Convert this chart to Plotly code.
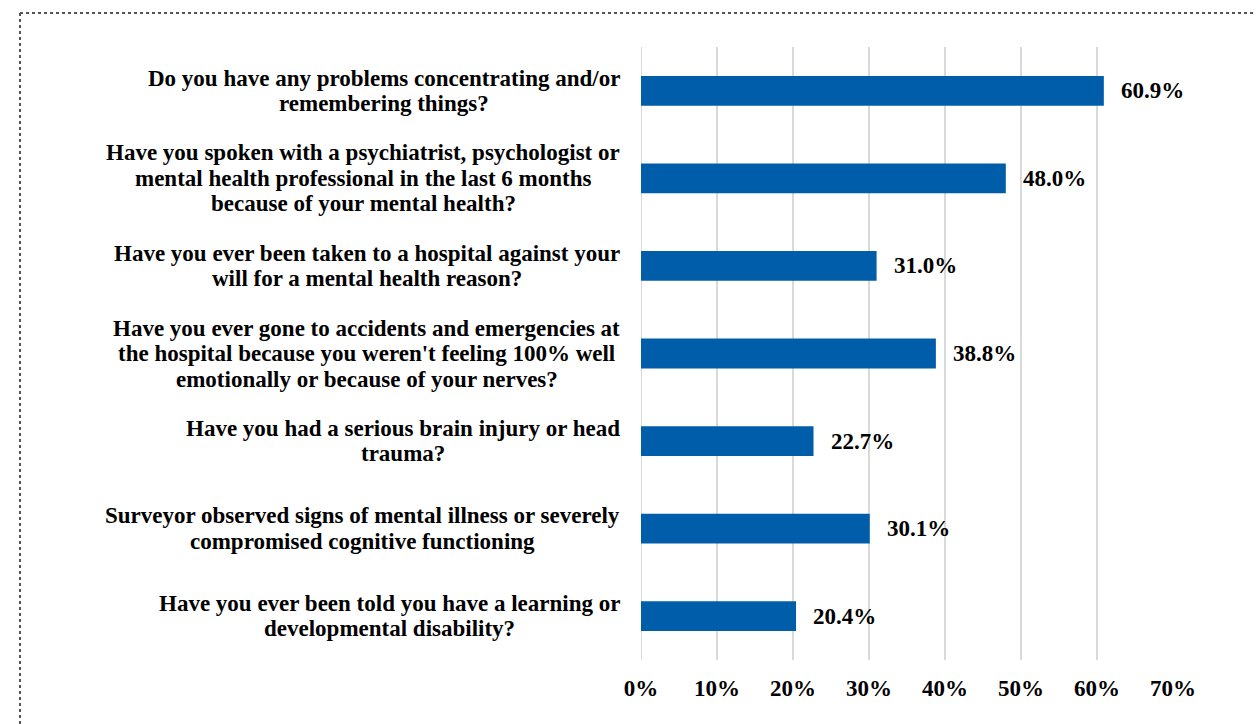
import glob
import plotly.graph_objects as go

# Survey questions (top to bottom), one list entry per printed line
questions = [
    ["Do you have any problems concentrating and/or", "remembering things?"],
    ["Have you spoken with a psychiatrist, psychologist or",
     "mental health professional in the last 6 months",
     "because of your mental health?"],
    ["Have you ever been taken to a hospital against your",
     "will for a mental health reason?"],
    ["Have you ever gone to accidents and emergencies at",
     "the hospital because you weren't feeling 100% well",
     "emotionally or because of your nerves?"],
    ["Have you had a serious brain injury or head", "trauma?"],
    ["Surveyor observed signs of mental illness or severely",
     "compromised cognitive functioning"],
    ["Have you ever been told you have a learning or",
     "developmental disability?"],
]
percent_yes = [60.9, 48.0, 31.0, 38.8, 22.7, 30.1, 20.4]

tick_values = [0, 10, 20, 30, 40, 50, 60, 70]
tick_labels = ["0%", "10%", "20%", "30%", "40%", "50%", "60%", "70%"]

FONT = "Liberation Serif, Times New Roman, serif"
FONT_SIZE = 23
LINE_HEIGHT = 25.5
TEXT_COLOR = "#000000"
BAR_COLOR = "#005DAA"
GRID_COLOR = "#D9D9D9"

# plot-area geometry in pixels
FIG_W, FIG_H = 1256, 724
L, R, T, B = 641, 1173, 47, 660
LABEL_RIGHT = 620


def px_x(px):
    return (px - L) / (R - L)


def px_y(py):
    return (B - py) / (B - T)


# text width measurement for centring the multi-line question labels
measure = None
try:
    from PIL import ImageFont
    paths = sorted(glob.glob("/usr/share/fonts/**/LiberationSerif-Bold.ttf", recursive=True))
    if paths:
        _f = ImageFont.truetype(paths[0], FONT_SIZE)
        measure = _f.getlength
except Exception:
    measure = None

category_ids = [" ".join(q) for q in questions]

fig = go.Figure(
    go.Bar(
        x=percent_yes,
        y=category_ids,
        orientation="h",
        marker=dict(color=BAR_COLOR, line=dict(width=0)),
        hoverinfo="skip",
    )
)

# value labels to the right of each bar
for cid, v in zip(category_ids, percent_yes):
    fig.add_annotation(
        x=v, y=cid, xref="x", yref="y",
        text=f"<b>{v:.1f}%</b>",
        showarrow=False, xanchor="left", xshift=15,
        font=dict(family=FONT, size=FONT_SIZE, color=TEXT_COLOR),
    )

# question labels: centred lines, block right-aligned against the axis
for cid, lines in zip(category_ids, questions):
    n = len(lines)
    if measure is not None:
        block_w = max(measure(s) for s in lines)
        cx = LABEL_RIGHT - block_w / 2
        for i, s in enumerate(lines):
            fig.add_annotation(
                x=px_x(cx), y=cid, xref="paper", yref="y",
                text=f"<b>{s}</b>", showarrow=False,
                xanchor="center", yanchor="middle",
                yshift=((n - 1) / 2 - i) * LINE_HEIGHT,
                font=dict(family=FONT, size=FONT_SIZE, color=TEXT_COLOR),
            )
    else:
        fig.add_annotation(
            x=px_x(LABEL_RIGHT), y=cid, xref="paper", yref="y",
            text="<b>" + "<br>".join(lines) + "</b>", showarrow=False,
            xanchor="right", yanchor="middle", align="center",
            font=dict(family=FONT, size=FONT_SIZE, color=TEXT_COLOR),
        )

# dotted frame along the top and left edges of the page
dot = dict(color="#555555", width=2, dash="dot")
fig.add_shape(type="line", xref="paper", yref="paper",
              x0=px_x(20), x1=px_x(FIG_W), y0=px_y(13), y1=px_y(13), line=dot)
fig.add_shape(type="line", xref="paper", yref="paper",
              x0=px_x(20), x1=px_x(20), y0=px_y(13), y1=px_y(FIG_H), line=dot)

# 0% gridline
fig.add_shape(type="line", xref="x", yref="paper", x0=0, x1=0, y0=0, y1=1,
              line=dict(color=GRID_COLOR, width=2), layer="below")

fig.update_layout(
    width=FIG_W, height=FIG_H,
    margin=dict(l=L, r=FIG_W - R, t=T, b=FIG_H - B),
    paper_bgcolor="white", plot_bgcolor="white",
    bargap=0.66,
    showlegend=False,
    font=dict(family=FONT, size=FONT_SIZE, color=TEXT_COLOR),
    xaxis=dict(
        range=[0, 70],
        tickvals=tick_values,
        ticktext=[f"<b>{t}</b>" for t in tick_labels],
        showgrid=True, gridcolor=GRID_COLOR, gridwidth=2,
        zeroline=False, showline=False, ticks="",
        ticklabelstandoff=12,
        tickfont=dict(family=FONT, size=FONT_SIZE, color=TEXT_COLOR),
        fixedrange=True,
    ),
    yaxis=dict(
        autorange="reversed",
        showticklabels=False,
        showgrid=False, zeroline=False, showline=False, ticks="",
        fixedrange=True,
    ),
)

fig.write_html("out.html")
